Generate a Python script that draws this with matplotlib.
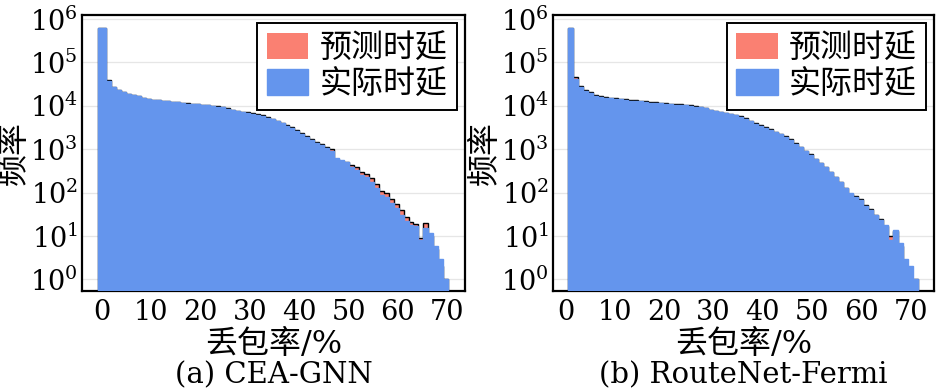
import numpy as np
import matplotlib
matplotlib.use("Agg")
import matplotlib.pyplot as plt

plt.rcParams['font.family'] = ['DejaVu Serif', 'Noto Sans CJK SC']
plt.rcParams['mathtext.fontset'] = 'dejavuserif'
plt.rcParams['axes.unicode_minus'] = False

# bin counts per loss-rate bin
cea_actual = [630000, 37600, 27300, 23300, 20600, 18700, 17400, 16500, 15400, 14500,
              13700, 13300, 12900, 12600, 12400, 12000, 11700, 11300, 11100, 10800,
              10500, 10400, 10000, 9650, 9160, 8540, 7940, 7540, 7140, 6900,
              6550, 6200, 5780, 5290, 4850, 4360, 3930, 3470, 3010, 2620,
              2270, 1940, 1630, 1360, 1230, 1060, 925, 615, 564, 516,
              382, 332, 255, 225, 179, 126, 88, 78, 57, 44,
              31, 22, 18, 17, 8, 15, 12, 6, 3, 1]
cea_pred = [630000, 38500, 27800, 23600, 20800, 18900, 17500, 16600, 15500, 14600,
            13800, 13400, 13000, 12700, 12500, 12100, 11800, 11400, 11200, 10900,
            10600, 10500, 10100, 9800, 9300, 8700, 8100, 7800, 7400, 7100,
            6800, 6450, 6050, 5500, 5050, 4550, 4100, 3650, 3180, 2750,
            2400, 2050, 1720, 1450, 1310, 1130, 990, 600, 540, 500,
            440, 380, 300, 265, 215, 155, 108, 96, 72, 56,
            40, 28, 21, 19, 9, 20, 10, 5, 2, 1]
rnf_actual = [615000, 41000, 27600, 22400, 19500, 17200, 16300, 15500, 14900, 14400,
              14000, 13600, 13200, 12900, 12600, 12200, 11900, 11600, 11400, 11100,
              10900, 10700, 10500, 10300, 10000, 9600, 9200, 8700, 8200, 7700,
              7300, 6900, 6500, 6100, 5600, 5000, 4400, 3900, 3500, 3100,
              2800, 2500, 2200, 1950, 1650, 1350, 1100, 900, 750, 600,
              480, 380, 300, 230, 180, 130, 97, 81, 68, 50,
              40, 30, 23, 18, 8, 14, 7, 3, 2, 1]
rnf_pred = [620000, 47000, 28500, 23300, 20300, 17900, 17000, 16100, 15500, 15000,
            14500, 14100, 13700, 13400, 13000, 12600, 12300, 12000, 11800, 11500,
            11200, 11000, 10800, 10500, 10200, 9700, 9200, 8700, 8200, 7700,
            7300, 6900, 6500, 6100, 5750, 5150, 4550, 4050, 3600, 3200,
            2900, 2550, 2250, 1980, 1680, 1380, 1120, 920, 760, 610,
            480, 380, 300, 230, 180, 128, 95, 84, 71, 52,
            42, 31, 24, 17, 10, 13, 6, 2, 1, 1]

xticks = [0, 10, 20, 30, 40, 50, 60, 70]
titles = ["(a) CEA-GNN", "(b) RouteNet-Fermi"]
blue = "cornflowerblue"

fig = plt.figure(figsize=(9.38, 3.92), dpi=100)
ax_a = fig.add_axes([0.0874, 0.2577, 0.4083, 0.704])
ax_b = fig.add_axes([0.5896, 0.2577, 0.4066, 0.704])


def draw_panel(ax, edges, pred, actual, xlim, title):
    edges = np.asarray(edges)
    ax.set_yscale("log")
    ax.hist(edges[:-1], bins=edges, weights=pred, color="salmon",
            label="预测时延", zorder=2)
    ax.hist(edges[:-1], bins=edges, weights=pred, histtype="step",
            color="black", lw=1.0, zorder=3)
    # blue bars carry an edge of their own colour so they hide the outline
    ax.hist(edges[:-1], bins=edges, weights=actual, color=blue,
            edgecolor=blue, lw=1.0, label="实际时延", zorder=4)
    ax.set_ylim(0.54, 1.24e6)
    ax.set_xlim(*xlim)
    ax.set_xticks(xticks)
    ax.set_yticks([10.0 ** k for k in range(7)])
    ax.yaxis.set_minor_locator(matplotlib.ticker.NullLocator())
    ax.grid(axis="y", color="#e6e6e6", lw=0.9, zorder=0)
    ax.set_axisbelow(True)
    ax.tick_params(axis="both", length=0, labelsize=19.5)
    ax.tick_params(axis="x", pad=6)
    ax.tick_params(axis="y", pad=3)
    for s in ax.spines.values():
        s.set_linewidth(1.6)
        s.set_color("black")
    ax.set_xlabel("丢包率/%", fontsize=23, labelpad=2)
    ax.set_ylabel("频率", fontsize=23, labelpad=0)
    leg = ax.legend(loc="upper right", fontsize=23, fancybox=False,
                    edgecolor="black", framealpha=1, handlelength=1.3,
                    handleheight=0.9, handletextpad=0.35, borderpad=0.3,
                    labelspacing=0.15, borderaxespad=0.25)
    leg.get_frame().set_linewidth(1.4)
    pos = ax.get_position()
    fig.text((pos.x0 + pos.x1) / 2, 0.043, title, ha="center", va="center",
             fontsize=21)


edges_a = np.concatenate([[-0.8], np.linspace(0.8, 70.2, 70)])
edges_b = np.linspace(0.5, 71.6, 71)
draw_panel(ax_a, edges_a, cea_pred, cea_actual, (-4.06, 73.6), titles[0])
draw_panel(ax_b, edges_b, rnf_pred, rnf_actual, (-2.58, 74.86), titles[1])

fig.savefig("out.png", dpi=100)
